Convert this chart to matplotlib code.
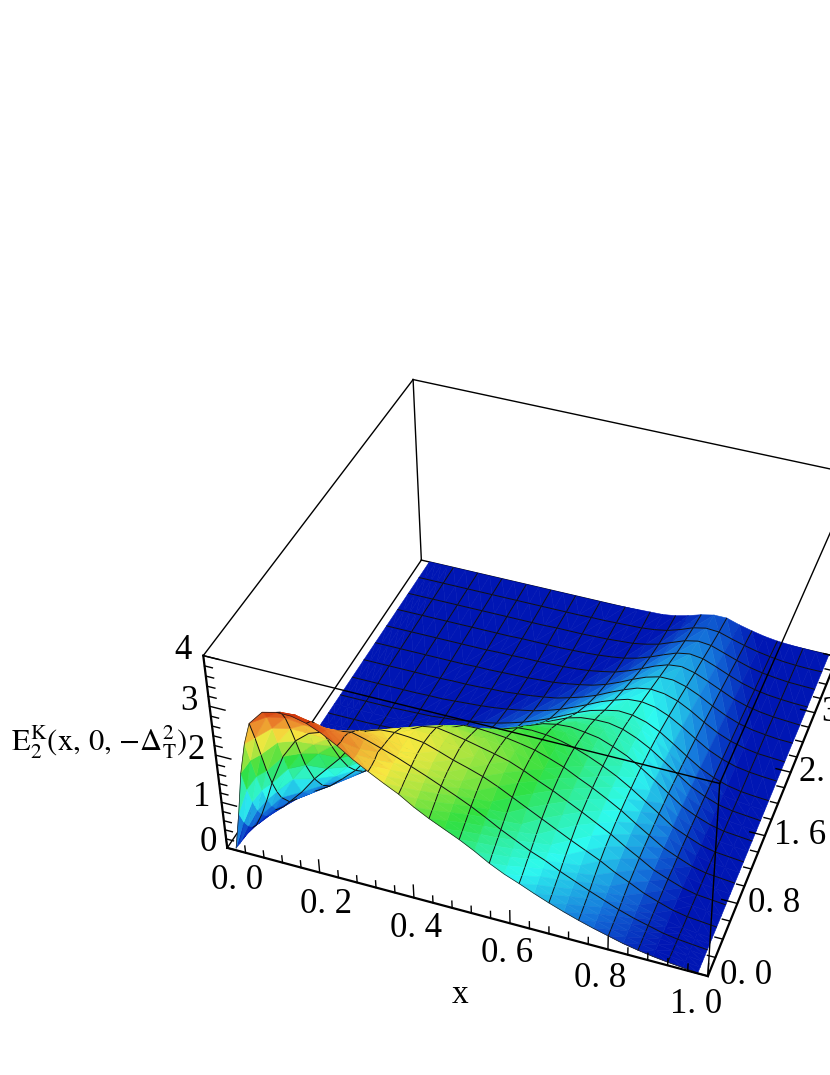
import numpy as np
import matplotlib
matplotlib.use('Agg')
import matplotlib.pyplot as plt
from matplotlib.colors import LinearSegmentedColormap
from mpl_toolkits.mplot3d import Axes3D
from mpl_toolkits.mplot3d.art3d import Poly3DCollection, Line3DCollection

plt.rcParams['font.family'] = ['Liberation Serif', 'DejaVu Serif']
plt.rcParams['mathtext.fontset'] = 'stix'

x_vals = [.02, .035, .05, .065, .08, .11, .14, .17, .20, .23, .26, .29, .32, .35, .38, .41, .44, .47, .50,
          .53, .56, .59, .62, .65, .68, .71, .74, .77, .80, .83, .86, .89, .92, .95, .98]
t_vals = [0, .0625, .125, .1875, .25, .3125, .375, .5, .625, .75, .875, 1, 1.125, 1.25, 1.375, 1.5, 1.625, 1.75, 1.875,
          2, 2.25, 2.5, 2.75, 3, 3.25, 3.5, 3.75, 4]
# one row per t, one column per x
z_vals = [
    [.05, .85, 1.75, 2.40, 2.85, 3.15, 3.22, 3.22, 3.15, 3.02, 2.85, 2.65, 2.48, 2.32, 2.17, 1.98, 1.82, 1.68, 1.54, 1.38, 1.20, 1.05, .93, .80, .68, .57, .47, .38, .30, .22, .16, .11, .07, .04, .01],
    [.03, .55, 1.30, 1.95, 2.45, 2.95, 3.12, 3.14, 3.08, 2.97, 2.82, 2.63, 2.48, 2.34, 2.20, 2.04, 1.88, 1.74, 1.60, 1.44, 1.27, 1.11, .98, .86, .73, .61, .50, .41, .32, .235, .17, .11, .07, .04, .01],
    [.02, .35, .92, 1.50, 2.00, 2.62, 2.90, 2.98, 2.95, 2.88, 2.82, 2.64, 2.50, 2.37, 2.24, 2.09, 1.94, 1.80, 1.66, 1.50, 1.33, 1.18, 1.04, .92, .78, .66, .54, .44, .34, .25, .18, .115, .07, .04, .01],
    [.01, .22, .62, 1.10, 1.55, 2.22, 2.58, 2.73, 2.77, 2.78, 2.78, 2.68, 2.55, 2.40, 2.27, 2.14, 2.00, 1.86, 1.72, 1.56, 1.39, 1.24, 1.10, .97, .83, .70, .58, .47, .36, .265, .19, .12, .07, .04, .01],
    [.01, .14, .42, .78, 1.18, 1.82, 2.22, 2.45, 2.55, 2.65, 2.70, 2.62, 2.52, 2.42, 2.30, 2.18, 2.05, 1.92, 1.78, 1.62, 1.45, 1.30, 1.15, 1.03, .88, .75, .62, .50, .38, .28, .20, .12, .07, .04, .01],
    [0, .08, .27, .53, .88, 1.45, 1.85, 2.12, 2.30, 2.50, 2.62, 2.58, 2.50, 2.42, 2.33, 2.20, 2.09, 1.97, 1.83, 1.68, 1.51, 1.36, 1.21, 1.08, .94, .80, .67, .53, .41, .30, .21, .125, .07, .04, .01],
    [0, .05, .17, .36, .64, 1.12, 1.50, 1.82, 2.05, 2.30, 2.52, 2.52, 2.48, 2.42, 2.35, 2.24, 2.12, 2.01, 1.88, 1.73, 1.57, 1.41, 1.27, 1.13, .99, .85, .72, .56, .44, .31, .22, .13, .07, .04, .01],
    [0, .02, .07, .17, .32, .62, .98, 1.28, 1.58, 1.95, 2.30, 2.40, 2.42, 2.40, 2.36, 2.26, 2.15, 2.06, 1.96, 1.83, 1.68, 1.53, 1.38, 1.23, 1.08, .94, .80, .63, .49, .34, .23, .13, .07, .04, .01],
    [0, .01, .03, .08, .16, .35, .62, .90, 1.18, 1.55, 1.95, 2.18, 2.30, 2.34, 2.32, 2.26, 2.17, 2.08, 2.00, 1.89, 1.76, 1.61, 1.46, 1.31, 1.17, 1.02, .87, .68, .52, .36, .24, .135, .07, .04, .01],
    [0, 0, .01, .03, .08, .20, .38, .62, .88, 1.22, 1.60, 1.85, 2.05, 2.20, 2.25, 2.20, 2.14, 2.07, 2.00, 1.92, 1.80, 1.66, 1.53, 1.38, 1.23, 1.07, .91, .72, .55, .37, .25, .14, .07, .04, .01],
    [0, 0, 0, .01, .04, .12, .24, .42, .64, .90, 1.22, 1.50, 1.72, 1.95, 2.08, 2.10, 2.05, 2.02, 1.96, 1.90, 1.81, 1.69, 1.57, 1.42, 1.27, 1.11, .95, .75, .57, .38, .25, .14, .07, .04, .01],
    [0, 0, 0, 0, .02, .07, .15, .28, .46, .65, .90, 1.18, 1.40, 1.62, 1.82, 1.95, 1.96, 1.94, 1.91, 1.86, 1.80, 1.70, 1.59, 1.44, 1.30, 1.14, .97, .77, .58, .39, .26, .14, .07, .04, .01],
    [0, 0, 0, 0, .01, .04, .09, .19, .32, .48, .68, .86, 1.03, 1.20, 1.38, 1.55, 1.70, 1.80, 1.82, 1.80, 1.76, 1.68, 1.59, 1.46, 1.32, 1.17, .99, .79, .59, .39, .26, .14, .07, .04, .01],
    [0, 0, 0, 0, .01, .02, .06, .12, .22, .35, .50, .66, .82, .98, 1.15, 1.32, 1.48, 1.60, 1.70, 1.72, 1.70, 1.65, 1.57, 1.46, 1.33, 1.18, 1.00, .80, .60, .39, .26, .14, .07, .04, .01],
    [0, 0, 0, 0, 0, .01, .04, .08, .15, .25, .37, .50, .62, .77, .93, 1.08, 1.25, 1.40, 1.52, 1.60, 1.62, 1.60, 1.53, 1.45, 1.33, 1.19, 1.01, .81, .60, .39, .26, .14, .07, .04, .01],
    [0, 0, 0, 0, 0, .01, .02, .05, .10, .17, .27, .37, .47, .60, .73, .87, 1.02, 1.18, 1.32, 1.44, 1.50, 1.52, 1.48, 1.43, 1.32, 1.19, 1.01, .81, .60, .39, .25, .14, .07, .04, .01],
    [0, 0, 0, 0, 0, 0, .01, .03, .07, .12, .19, .27, .35, .45, .57, .69, .83, .98, 1.13, 1.26, 1.36, 1.42, 1.42, 1.39, 1.30, 1.18, 1.00, .80, .59, .38, .25, .14, .07, .04, .01],
    [0, 0, 0, 0, 0, 0, .01, .02, .04, .08, .13, .19, .26, .34, .43, .54, .66, .80, .95, 1.09, 1.22, 1.30, 1.33, 1.33, 1.27, 1.15, .99, .79, .58, .38, .24, .13, .07, .04, .01],
    [0, 0, 0, 0, 0, 0, 0, .01, .03, .05, .09, .13, .19, .25, .33, .42, .52, .64, .78, .92, 1.06, 1.17, 1.23, 1.26, 1.22, 1.12, .97, .77, .57, .37, .23, .12, .065, .035, .01],
    [0, 0, 0, 0, 0, 0, 0, .01, .02, .03, .06, .09, .14, .18, .24, .32, .41, .52, .64, .78, .92, 1.04, 1.12, 1.18, 1.16, 1.08, .94, .75, .55, .36, .22, .12, .06, .03, .01],
    [0, 0, 0, 0, 0, 0, 0, 0, .01, .01, .03, .05, .07, .10, .14, .19, .25, .33, .43, .55, .68, .82, .93, 1.02, 1.04, .99, .87, .70, .51, .33, .20, .11, .06, .03, .01],
    [0, 0, 0, 0, 0, 0, 0, 0, 0, .01, .01, .02, .04, .05, .08, .11, .15, .20, .28, .37, .48, .62, .75, .86, .91, .88, .79, .64, .46, .30, .18, .10, .05, .03, .01],
    [0, 0, 0, 0, 0, 0, 0, 0, 0, 0, .01, .01, .02, .03, .04, .06, .08, .12, .17, .23, .32, .44, .58, .70, .78, .78, .70, .57, .41, .27, .16, .09, .05, .02, .01],
    [0, 0, 0, 0, 0, 0, 0, 0, 0, 0, 0, .01, .01, .02, .02, .03, .04, .06, .09, .14, .20, .30, .42, .55, .65, .68, .61, .49, .36, .23, .14, .08, .04, .02, 0],
    [0, 0, 0, 0, 0, 0, 0, 0, 0, 0, 0, 0, .01, .01, .01, .01, .02, .03, .05, .08, .12, .19, .29, .41, .52, .57, .53, .42, .30, .19, .11, .06, .03, .01, 0],
    [0, 0, 0, 0, 0, 0, 0, 0, 0, 0, 0, 0, 0, 0, .01, .01, .01, .02, .03, .05, .07, .12, .19, .30, .41, .47, .44, .34, .24, .15, .09, .05, .02, .01, 0],
    [0, 0, 0, 0, 0, 0, 0, 0, 0, 0, 0, 0, 0, 0, 0, 0, .01, .01, .02, .03, .04, .07, .12, .21, .32, .38, .36, .27, .19, .12, .07, .03, .01, 0, 0],
    [0, 0, 0, 0, 0, 0, 0, 0, 0, 0, 0, 0, 0, 0, 0, 0, 0, 0, .01, .02, .03, .04, .08, .15, .24, .30, .30, .21, .14, .08, .04, .02, .01, 0, 0],
]

x_major = [0.0, 0.2, 0.4, 0.6, 0.8, 1.0]
t_major = [0.0, 0.8, 1.6, 2.4, 3.2]
z_major = [0, 1, 2, 3, 4]
x_labels = ['0. 0', '0. 2', '0. 4', '0. 6', '0. 8', '1. 0']
t_labels = ['0. 0', '0. 8', '1. 6', '2. 4', '3. 2']
z_labels = ['0', '1', '2', '3', '4']

W, H = 830, 1075

# box corners (x, t, z) and where they sit in the picture, used to fit the camera
world_pts = np.array([[0, 0, 0], [1, 0, 0], [0, 0, 4], [1, 0, 4], [0, 4, 4], [0, 4, 0], [1, 4, 4], [1, 4, 0]], float)
pixel_pts = np.array([[228, 848], [707, 977], [203, 655], [720, 783], [413, 379], [421, 561], [856, 476], [838, 655]], float)

rows = []
for (a, b, c), (u, v) in zip(world_pts, pixel_pts):
    v = H - v
    rows.append([a, b, c, 1, 0, 0, 0, 0, -u * a, -u * b, -u * c, -u])
    rows.append([0, 0, 0, 0, a, b, c, 1, -v * a, -v * b, -v * c, -v])
cam = np.linalg.svd(np.array(rows))[2][-1].reshape(3, 4)
cam = cam / (cam[2] @ [0.5, 2, 1, 1])

fig = plt.figure(figsize=(W / 100, H / 100), dpi=100)
# square axes as tall as the figure, the camera fit does the real placing
ax = fig.add_axes([-(H - W) / 2 / W, 0, H / W, 1], projection='3d')
ax.computed_zorder = False
ax.set_axis_off()


def fitted_proj():
    to_view = ax.transData.inverted().get_matrix()
    p = to_view @ cam
    return np.array([p[0], p[1], [0, 0, 0, -1.0], p[2]])


ax.get_proj = fitted_proj
ax.set_xlim(0, 1)
ax.set_ylim(0, 4)
ax.set_zlim(0, 4)

z_top = 3.3
cmap = LinearSegmentedColormap.from_list('hue_z', [
    (0.0, '#0016b4'), (0.1 / z_top, '#0016b4'), (0.45 / z_top, '#1577dc'), (1.0 / z_top, '#2efaf0'),
    (1.35 / z_top, '#30eea0'), (1.7 / z_top, '#30e040'), (2.4 / z_top, '#f8e840'),
    (2.85 / z_top, '#e87828'), (1.0, '#c81e00')])

X = np.array(x_vals)
T = np.array(t_vals, float)
Z = np.array(z_vals)
mesh_cols = [i for i, v in enumerate(x_vals) if round((v - 0.02) / 0.06, 6) % 1 == 0 and 0.02 < v < 0.98]


def line(a, b, c, lw=1.0, zo=1):
    ax.plot(a, b, c, color='black', lw=lw, zorder=zo, solid_capstyle='projecting')


# back edges of the box go under the surface
line([0, 0], [0, 4], [0, 0], 1.0, 1)
line([0, 1], [4, 4], [0, 0], 1.0, 1)
line([0, 0], [4, 4], [0, 4], 1.0, 1)
line([0, 0], [0, 4], [4, 4], 1.0, 1)
line([0, 1], [4, 4], [4, 4], 1.0, 1)

# strips back to front so nearer parts hide farther ones
zo = 2.0
for k in range(len(T) - 2, -1, -1):
    polys, cols = [], []
    for i in range(len(X) - 1):
        a = (X[i], T[k], Z[k, i])
        b = (X[i + 1], T[k], Z[k, i + 1])
        c = (X[i + 1], T[k + 1], Z[k + 1, i + 1])
        d = (X[i], T[k + 1], Z[k + 1, i])
        # two triangles, cut along the flatter diagonal so the colour bands stay clean
        if abs(a[2] - c[2]) < abs(b[2] - d[2]):
            tris = [(a, b, c), (a, c, d)]
        else:
            tris = [(a, b, d), (b, c, d)]
        for tri in tris:
            polys.append(tri)
            cols.append(cmap(np.mean([p[2] for p in tri]) / z_top))
    ax.add_collection3d(Poly3DCollection(polys, facecolors=cols, edgecolors=cols, linewidths=0.4, zorder=zo), autolim=False)
    segs = []
    for i in mesh_cols:
        segs.append([(X[i], T[k], Z[k, i]), (X[i], T[k + 1], Z[k + 1, i])])
    if T[k + 1] % 0.25 == 0 and T[k + 1] < 4:
        for i in range(len(X) - 1):
            segs.append([(X[i], T[k + 1], Z[k + 1, i]), (X[i + 1], T[k + 1], Z[k + 1, i + 1])])
    ax.add_collection3d(Line3DCollection(segs, colors='#101010', linewidths=0.7, zorder=zo + 0.1), autolim=False)
    zo += 0.2

# thin edge along the front of the surface
ax.plot(X, T[0] * np.ones(len(X)), Z[0], color='#202020', lw=0.5, zorder=zo)

# front edges and axes over the surface
line([0, 1], [0, 0], [4, 4], 1.0, 50)
line([1, 1], [0, 4], [4, 4], 1.0, 50)
line([1, 1], [0, 0], [0, 4], 1.0, 50)
line([0, 0], [0, 0], [0, 4], 1.6, 50)
line([0, 1], [0, 0], [0, 0], 1.6, 50)
line([1, 1], [0, 4], [0, 0], 1.6, 50)

for n in range(26):
    v = n * 0.04
    length = 0.28 if n % 5 == 0 else 0.15
    line([v, v], [0, 0], [0, length], 1.0, 50)
for n in range(21):
    v = n * 0.2
    length = 0.032 if n % 5 == 0 else 0.016
    line([0, length], [0, 0], [v, v], 1.0, 50)
for n in range(21):
    v = n * 0.2
    length = 0.032 if n % 4 == 0 else 0.016
    line([1, 1 - length], [v, v], [0, 0], 1.0, 50)

for v, s in zip(x_major, x_labels):
    ax.text(0.059 + 0.94 * v, -0.3, 0, s, ha='center', va='center', fontsize=25, zorder=60)
for v, s in zip(t_major, t_labels):
    ax.text(1.068, v + 0.1, 0, s, ha='center', va='center', fontsize=25, zorder=60)
for v, s in zip(z_major, z_labels):
    ax.text(-0.042, 0, v, s, ha='center', va='center', fontsize=25, zorder=60)

fig.text(460 / W, 1 - 995 / H, 'x', ha='center', va='center', fontsize=24)
fig.text(99 / W, 1 - 742 / H, r'$\mathrm{E}_{2}^{\mathrm{K}}(\mathrm{x},\,0,\,{-}\Delta_{\mathrm{T}}^{2})$',
         ha='center', va='center', fontsize=22)

fig.savefig('out.png', dpi=100)
